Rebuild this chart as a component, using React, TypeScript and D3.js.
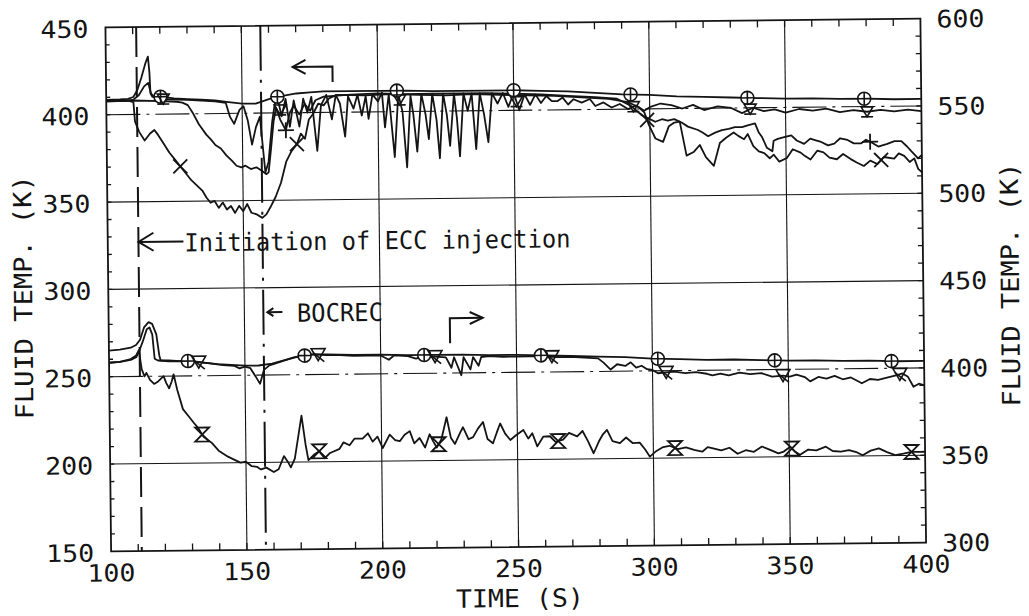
import React from 'react';
import * as d3 from 'd3';

type P = [number, number];

// ---- axes ----
const timeTicks = [100, 150, 200, 250, 300, 350, 400];
const leftTicks = [150, 200, 250, 300, 350, 400, 450];
const rightTicks = [300, 350, 400, 450, 500, 550, 600];
const dashDotGrid = [400, 250]; // left-axis values drawn dash-dot
const eccTime = 111.3;
const bocrecTime = 157;

// ---- upper group (left axis, K) ----
const upCircle: P[] = [
  [100, 408.5], [105, 408.7], [108, 409], [110, 410], [111.5, 414], [113, 421], [114.5, 429], [115.5, 433], [116, 424], [116.3, 412],
  [117, 410], [120, 410], [125, 409], [130, 408.5], [135, 408], [140, 407.5], [145, 406.5], [150, 405.5], [155, 405.5], [158, 407],
  [162, 409], [166, 410], [170, 411], [175, 411.5], [180, 412], [190, 412], [200, 412], [210, 412], [220, 411.5], [230, 411.5],
  [240, 411.5], [250, 411.5], [260, 411], [270, 410.5], [280, 409.5], [290, 408.5], [300, 408], [310, 407], [320, 406.5], [330, 406],
  [340, 405.5], [350, 405], [360, 405], [370, 404.5], [380, 404.5], [390, 404], [400, 404],
];
const upTri: P[] = [
  [100, 407.5], [108, 408], [110, 408.5], [112, 411], [114, 416], [115.5, 418], [116.5, 412], [118, 409], [122, 408.5], [130, 408],
  [140, 407], [144, 406], [145.5, 398], [147, 394], [149, 402], [150.5, 404], [152, 396], [153.5, 382], [155, 392], [156.5, 398],
  [157.5, 380], [158.3, 366], [159.5, 372], [161, 395], [162, 405], [163, 409], [164.5, 398], [166, 408], [167.5, 392], [169, 407],
  [171, 392], [172.5, 408], [174, 400], [175.5, 409], [177.5, 378], [179, 404], [181, 410], [183, 396], [184.5, 410], [186, 405],
  [187.8, 386], [189, 409], [191, 402], [192.5, 410], [194, 398], [195.5, 409], [196.5, 396], [198, 410], [200, 406], [201.5, 411],
  [202.5, 391], [204, 410], [206, 374], [207.5, 410], [209, 400], [210.5, 368], [212, 409], [213, 398], [214.3, 377], [216, 410],
  [217.5, 398], [218.6, 384], [220, 410], [221.5, 395], [222.6, 373], [224, 410], [225.3, 398], [226.4, 380], [228, 410], [229, 396],
  [230, 374], [231.5, 410], [233, 400], [234.5, 410], [236, 378], [237.5, 410], [239, 398], [240.5, 382], [242, 410], [244, 404],
  [246, 410], [248, 402], [250, 410], [252, 400], [254, 409], [256, 403], [258, 409], [260, 404], [262, 408], [264, 405],
  [266, 405], [268, 407], [270, 403], [272, 406], [275, 404], [278, 406], [280, 402], [283, 404], [286, 401], [289, 403],
  [292, 400], [295, 402], [298, 399], [300, 401], [304, 403], [308, 402], [312, 400], [316, 402], [320, 399], [325, 401],
  [330, 400], [334, 397], [338, 400], [342, 398], [346, 399], [350, 397], [355, 399], [360, 398], [365, 399], [370, 397],
  [375, 398], [380, 397], [385, 398], [390, 397], [395, 398], [400, 397],
];
const upCross: P[] = [
  [100, 408], [108, 408], [110, 407], [110.5, 396], [112, 390], [114, 385], [116, 389], [117.6, 391], [119, 388], [121, 383],
  [123, 378], [125, 374], [127, 370], [129, 366], [131, 362], [133, 359], [135, 356], [136.5, 352], [138, 349], [139.5, 350],
  [141, 346], [142.5, 349], [144, 345], [145.5, 347], [147, 343], [148.5, 347], [150, 344], [151.5, 348], [153, 343], [155, 342],
  [157, 340], [158.5, 342], [160, 346], [162, 352], [164, 360], [166, 372], [168, 378], [170, 382], [171.5, 388], [173, 385],
  [174.5, 396], [176, 399], [178, 405], [180, 404], [182, 408], [185, 410], [195, 409.5], [205, 410], [215, 409.5], [225, 409],
  [235, 409.5], [245, 409], [255, 408.5], [265, 408], [275, 407], [285, 406], [292, 404], [296, 401], [298, 398], [299.6, 391],
  [302, 383], [304.8, 381], [307, 390], [309, 392], [311, 392.5], [313.4, 373], [316, 375], [318.3, 379], [320.5, 372], [323.4, 367],
  [325.7, 380], [328, 383], [330.8, 386], [332.5, 384], [334.6, 382], [336, 385], [338, 378], [340, 375], [342, 374], [344, 371],
  [345.5, 373], [347.5, 369], [350.3, 371], [352.5, 376], [355.4, 374], [357, 372], [359, 370], [361.5, 375], [363.8, 374], [366, 371],
  [368.7, 370], [371, 373], [373.8, 370], [376, 368], [378.6, 366], [381, 369], [383.6, 367], [386, 371], [389.8, 370], [391.5, 373],
  [393.5, 371.5], [395.5, 368], [397.2, 370], [398.6, 364], [400, 362],
];
const upPlus: P[] = [
  [100, 408], [110, 408], [120, 407.5], [126, 407], [128, 406.5], [130, 405], [132, 400], [134, 394], [136.7, 388], [138.5, 385],
  [140, 382], [142, 380], [144, 376], [146, 373], [147.7, 370], [149.5, 369], [151, 370], [153, 368], [155, 369], [157, 367],
  [158.7, 365], [159.5, 366], [160.5, 380], [161.5, 395], [162.5, 403], [164, 396], [166, 390], [167.5, 400], [169, 404], [171, 399],
  [173, 405], [175, 401], [177, 407], [180, 409], [190, 410], [200, 410.5], [210, 410], [220, 410], [230, 410], [240, 410],
  [250, 409.5], [260, 409], [270, 408], [280, 407], [288, 406], [293, 402], [297, 396.5], [302, 392.6], [304.5, 394], [306.6, 393.2],
  [309, 394], [311.7, 392], [314, 389.6], [317.7, 387.6], [319.5, 386], [321.4, 384], [324, 386], [326.5, 387.4], [329, 388], [331.3, 389],
  [333.9, 389], [336, 390], [338.7, 391], [340, 386], [341.3, 383], [343, 377], [345, 375], [345.5, 381], [347, 382], [349.4, 383],
  [352, 384], [354, 381], [356.7, 379], [359, 382], [361, 381], [363, 380], [365.5, 378], [367.8, 379], [370, 382], [372.7, 381],
  [375, 379], [377.6, 378.9], [379.5, 381], [381.4, 379.5], [384, 377], [387.3, 378.5], [390, 380], [392.5, 380], [394.5, 377], [396.2, 374],
  [398.6, 370], [400, 372],
];

// ---- lower group (right axis, K) ----
const lowCircle: P[] = [
  [100, 415], [104, 415.5], [108, 416.5], [110, 418], [111.5, 421], [113, 428], [114.7, 431], [116, 430], [117.5, 424], [118.5, 412],
  [119, 409], [122, 409], [126, 408.5], [130, 408.5], [135, 407.5], [140, 406.5], [145, 406], [150, 405.5], [155, 405.5], [160, 406.5],
  [165, 408.5], [170, 410.5], [175, 411.5], [180, 411.5], [190, 411], [200, 411], [210, 410.5], [220, 410.5], [230, 410.5], [240, 410],
  [250, 410], [260, 409.5], [270, 409], [280, 408.5], [290, 408], [300, 407], [310, 406.5], [320, 406], [330, 406], [340, 405.5],
  [350, 405], [360, 405], [370, 404.5], [380, 404.5], [390, 404], [400, 404],
];
const lowCross: P[] = [
  [100, 408], [104, 408.5], [108, 409.5], [110, 411], [111, 414], [112.5, 420], [114, 427], [115, 428], [116, 424], [116.8, 410],
  [118, 409], [122, 408.5], [127, 408.5], [132, 408], [137, 407], [142, 406], [146, 405.5], [148, 404], [150, 405], [152, 404],
  [154, 399], [155.5, 395], [157, 403], [159, 405.5], [163, 407.5], [168, 410], [172, 411], [176, 411.5], [180, 411], [185, 411],
  [190, 410.5], [195, 410.5], [200, 410.5], [203, 408], [205, 410.5], [210, 410], [213, 408.5], [216, 410], [220, 409.5], [224, 409],
  [226, 403], [227, 409], [229.6, 398.7], [230.5, 409], [233, 402], [234, 409], [236, 404], [237, 409], [240, 409.5], [245, 409],
  [250, 409], [255, 409], [260, 409], [265, 408.5], [270, 408.5], [275, 408], [280, 407.5], [282, 405], [284.6, 401], [287, 404],
  [290, 403], [292, 405], [294, 402], [296, 403], [298, 401], [300, 400.5], [302, 398.6], [305, 399], [308, 399.4], [312, 398.5],
  [316, 399], [320, 398], [322, 397.1], [325, 398], [328, 397], [332, 398.5], [336, 397.5], [340, 398], [344, 396], [348, 396.5],
  [350.5, 395.8], [353, 397], [356, 395.5], [358, 393], [361, 395.5], [364, 394.5], [367, 396], [370, 394], [373, 395], [377, 391.6],
  [380, 394], [383, 393.5], [387, 395], [390, 396], [392, 397], [394, 395], [396, 389.3], [398, 391], [400, 390],
];
const lowHour: P[] = [
  [100, 408], [104, 408.5], [108, 410], [110, 412], [111, 415], [112, 404], [113, 400], [113.7, 402], [115, 398], [116.5, 395.6],
  [118, 397], [120, 400], [121, 396], [122, 393], [123, 397], [123.7, 401], [125, 392], [127, 381], [129, 377], [131, 373],
  [132.6, 370], [134.5, 365], [137.5, 361.5], [140, 357], [143.4, 353.5], [146, 351.5], [148, 350], [150, 350.5], [152, 348], [154, 347.5],
  [155.5, 346], [157.5, 347], [160.2, 344.4], [162, 346], [164, 353.5], [165.5, 350], [166.5, 347], [168, 352], [170.6, 376.5], [172, 360],
  [173, 351], [175, 354], [177, 356], [179, 352], [181, 355], [184.5, 357.3], [186, 361], [188.2, 359.3], [190, 363], [193, 363],
  [195, 366], [196.7, 361.2], [198.5, 364], [200.4, 357.5], [203, 365.1], [205, 362], [206.7, 361.3], [208.5, 365], [210.4, 367], [212, 360],
  [214, 363], [216, 357.5], [217.7, 365.1], [219, 361], [220.3, 357.5], [222, 362], [224, 374.7], [225.5, 363], [227, 359.4], [229, 366],
  [230, 368.9], [232, 362], [233.7, 363.2], [235.5, 368], [237.4, 371.8], [239, 362], [241, 359.5], [242.5, 366], [243.7, 370.8], [245.5, 365],
  [247.4, 361.3], [249.5, 364], [252.2, 367], [254, 362], [255.5, 365], [257.3, 357.5], [259.5, 363], [262, 363.2], [264, 360], [266.8, 361.2],
  [269, 365], [272, 363], [274, 366], [276, 360], [278, 353.2], [280, 360], [281.5, 364], [283, 366.5], [285, 360], [287.7, 358.8],
  [290, 362], [292.5, 358.7], [295, 359], [297, 355], [298.7, 350.9], [301, 354], [303.6, 356.3], [306, 357], [309, 355], [312, 356],
  [315, 354.5], [318, 353.4], [320, 356], [322, 355.2], [325, 354], [328, 355.5], [331, 352], [334, 354], [337, 353], [340, 356],
  [343, 354], [346, 352], [348, 353], [350.4, 355.7], [352, 353], [354, 351], [357, 354], [360, 353.5], [363.5, 355.5], [366, 353],
  [369, 352.6], [372, 353.4], [375, 352], [377, 350.4], [380, 353], [383, 354.2], [386, 352], [389, 350.3], [392, 351], [395, 352],
  [398, 352], [400, 352],
];

// marker times
const upCircleMarks = [120, 163, 207, 250, 293, 336, 379];
const upTriMarks = [121, 164, 208, 251, 294, 337, 380];
const upCrossMarks = [127, 170, 299, 385];
const upPlusMarks = [166, 381];
const lowCircleMarks = [129, 172, 216, 259, 302, 345, 388];
const lowCrossMarks = [133, 177, 220, 263, 305, 348, 391];
const lowHourMarks = [134, 177, 221, 265, 308, 351, 395];

// annotation anchors (data units)
const eccArrowLevel = 327; // left axis K
const bocrecLevel = 286; // left axis K
const upArrow = { t0: 168.7, t1: 183.4, v: 426.2, vBottom: 417.3 }; // left axis
const lowArrow = { t0: 225.6, t1: 237.7, v: 431.4, vBottom: 417.1 }; // right axis

function valAt(data: P[], t: number): number {
  for (let i = 0; i < data.length - 1; i++) {
    const [t0, v0] = data[i];
    const [t1, v1] = data[i + 1];
    if (t >= t0 && t <= t1) return v0 + ((v1 - v0) * (t - t0)) / (t1 - t0);
  }
  return data[data.length - 1][1];
}

const INK = '#141414';
const FONT = '"DejaVu Sans Mono", "Liberation Mono", monospace';

function Marker({ kind, cx, cy }: { kind: string; cx: number; cy: number }) {
  const common = { fill: 'none', stroke: INK, strokeWidth: 1.6 };
  if (kind === 'circlePlus')
    return (
      <g transform={`translate(${cx},${cy})`} {...common}>
        <circle r={6.5} fill="white" />
        <line x1={-6.5} x2={6.5} y1={0} y2={0} />
        <line x1={0} x2={0} y1={-6.5} y2={6.5} />
      </g>
    );
  if (kind === 'tri')
    return (
      <g transform={`translate(${cx},${cy})`} {...common}>
        <path d="M-6,-5 L6,-5 L0,5 Z" />
        <line x1={-6} x2={6} y1={5} y2={5} />
      </g>
    );
  if (kind === 'cross')
    return (
      <g transform={`translate(${cx},${cy})`} {...common} strokeWidth={1.8}>
        <line x1={-7} x2={7} y1={-7} y2={7} />
        <line x1={-7} x2={7} y1={7} y2={-7} />
      </g>
    );
  if (kind === 'plus')
    return (
      <g transform={`translate(${cx},${cy})`} {...common} strokeWidth={1.8}>
        <line x1={-8} x2={8} y1={0} y2={0} />
        <line x1={0} x2={0} y1={-8} y2={8} />
      </g>
    );
  if (kind === 'triCross')
    return (
      <g transform={`translate(${cx},${cy})`} {...common}>
        <path d="M-7,-6 L7,-6 L0,6 Z" />
        <line x1={-5} x2={6} y1={-2} y2={7} />
      </g>
    );
  // hourglass
  return (
    <g transform={`translate(${cx},${cy})`} {...common} strokeWidth={1.8}>
      <path d="M-7,-7 L7,-7 L-7,7 L7,7 Z" />
    </g>
  );
}

export default function App() {
  const W = 1029;
  const H = 616;
  const L = 108.25;
  const R = 923.25;
  const T = 23;
  const B = 547;

  const x = d3.scaleLinear().domain([100, 400]).range([L, R]);
  const yL = d3.scaleLinear().domain([150, 450]).range([B, T]);
  const yR = d3.scaleLinear().domain([300, 600]).range([B, T]);

  const lineL = d3.line<P>().x((d) => x(d[0])).y((d) => yL(d[1]));
  const lineR = d3.line<P>().x((d) => x(d[0])).y((d) => yR(d[1]));

  const minorT = d3.range(110, 400, 10);
  const minorL = d3.range(160, 450, 10);

  const upperSeries: { data: P[]; marks: number[]; kind: string }[] = [
    { data: upCircle, marks: upCircleMarks, kind: 'circlePlus' },
    { data: upTri, marks: upTriMarks, kind: 'tri' },
    { data: upCross, marks: upCrossMarks, kind: 'cross' },
    { data: upPlus, marks: upPlusMarks, kind: 'plus' },
  ];
  const lowerSeries: { data: P[]; marks: number[]; kind: string }[] = [
    { data: lowCircle, marks: lowCircleMarks, kind: 'circlePlus' },
    { data: lowCross, marks: lowCrossMarks, kind: 'triCross' },
    { data: lowHour, marks: lowHourMarks, kind: 'hourglass' },
  ];

  const xe = x(eccTime);
  const xb = x(bocrecTime);

  return (
    <svg
      width={W}
      height={H}
      viewBox={`0 0 ${W} ${H}`}
      style={{ position: 'absolute', left: 0, top: 0, background: 'white' }}
    >
      <rect x={0} y={0} width={W} height={H} fill="white" />
      <g transform="rotate(-0.62 515.75 285)">
        {/* gridlines */}
        {timeTicks.slice(1, -1).map((t) => (
          <line key={'gx' + t} x1={x(t)} x2={x(t)} y1={T} y2={B} stroke={INK} strokeWidth={1.1} />
        ))}
        {leftTicks.slice(1, -1).map((v) => (
          <line
            key={'gy' + v}
            x1={L}
            x2={R}
            y1={yL(v)}
            y2={yL(v)}
            stroke={INK}
            strokeWidth={1.1}
            strokeDasharray={dashDotGrid.includes(v) ? '34,6,3,6' : undefined}
          />
        ))}

        {/* minor ticks */}
        {minorT.map((t) => (
          <g key={'mt' + t} stroke={INK} strokeWidth={1.3}>
            <line x1={x(t)} x2={x(t)} y1={T} y2={T + 7} />
            <line x1={x(t)} x2={x(t)} y1={B} y2={B - 7} />
          </g>
        ))}
        {minorL.map((v) => (
          <g key={'ml' + v} stroke={INK} strokeWidth={1.3}>
            <line x1={L} x2={L + 4} y1={yL(v)} y2={yL(v)} />
            <line x1={R} x2={R - 5} y1={yL(v)} y2={yL(v)} />
          </g>
        ))}

        {/* ECC initiation (dashed) and BOCREC (dash-dot) */}
        <line x1={xe} x2={xe} y1={T} y2={B} stroke={INK} strokeWidth={2} strokeDasharray="30,10" />
        <line x1={xb} x2={xb} y1={T} y2={B} stroke={INK} strokeWidth={2} strokeDasharray="45,9,3,9" />

        {/* data lines */}
        {upperSeries.map((s, i) => (
          <path key={'u' + i} d={lineL(s.data) || ''} fill="none" stroke={INK} strokeWidth={1.8} strokeLinejoin="round" />
        ))}
        {lowerSeries.map((s, i) => (
          <path key={'l' + i} d={lineR(s.data) || ''} fill="none" stroke={INK} strokeWidth={1.8} strokeLinejoin="round" />
        ))}
        {upperSeries.map((s, i) =>
          s.marks.map((t) => <Marker key={'um' + i + '-' + t} kind={s.kind} cx={x(t)} cy={yL(valAt(s.data, t))} />)
        )}
        {lowerSeries.map((s, i) =>
          s.marks.map((t) => <Marker key={'lm' + i + '-' + t} kind={s.kind} cx={x(t)} cy={yR(valAt(s.data, t))} />)
        )}

        {/* frame */}
        <rect x={L} y={T} width={R - L} height={B - T} fill="none" stroke={INK} strokeWidth={1.8} />

        {/* tick labels */}
        <g fontFamily={FONT} fontSize={24} fill={INK}>
          {leftTicks.map((v) => (
            <text key={'lt' + v} x={L - 65} y={yL(v) + 10} textLength={48} lengthAdjust="spacingAndGlyphs">
              {v}
            </text>
          ))}
          {rightTicks.map((v) => (
            <text key={'rt' + v} x={R + 16} y={yR(v) + 9} textLength={48} lengthAdjust="spacingAndGlyphs">
              {v}
            </text>
          ))}
          {timeTicks.map((t) => (
            <text key={'bt' + t} x={x(t)} y={B + 30} textAnchor="middle" textLength={48} lengthAdjust="spacingAndGlyphs">
              {t}
            </text>
          ))}
        </g>

        {/* axis titles */}
        <g fontFamily={FONT} fontSize={25} fill={INK}>
          <text x={516.6} y={607} textAnchor="middle" textLength={128} lengthAdjust="spacingAndGlyphs">
            TIME (S)
          </text>
          <text
            transform="translate(32,292) rotate(-90)"
            textAnchor="middle"
            textLength={244}
            lengthAdjust="spacingAndGlyphs"
          >
            FLUID TEMP. (K)
          </text>
          <text
            transform="translate(1019,290) rotate(-90)"
            textAnchor="middle"
            textLength={244}
            lengthAdjust="spacingAndGlyphs"
          >
            FLUID TEMP. (K)
          </text>
        </g>

        {/* annotations */}
        <g stroke={INK} strokeWidth={2} fill="none">
          <line x1={xe} x2={xe + 45} y1={yL(eccArrowLevel)} y2={yL(eccArrowLevel)} />
          <path d={`M${xe + 15},${yL(eccArrowLevel) - 9} L${xe},${yL(eccArrowLevel)} L${xe + 15},${yL(eccArrowLevel) + 9}`} />
          <line x1={xb + 4} x2={xb + 19} y1={yL(bocrecLevel)} y2={yL(bocrecLevel)} />
          <path d={`M${xb + 10},${yL(bocrecLevel) - 4} L${xb + 4},${yL(bocrecLevel)} L${xb + 10},${yL(bocrecLevel) + 4}`} />
          <path d={`M${x(upArrow.t0)},${yL(upArrow.v)} H${x(upArrow.t1)} V${yL(upArrow.vBottom)}`} />
          <path
            d={`M${x(upArrow.t0) + 13},${yL(upArrow.v) - 7} L${x(upArrow.t0)},${yL(upArrow.v)} L${x(upArrow.t0) + 13},${yL(upArrow.v) + 7}`}
          />
          <path d={`M${x(lowArrow.t0)},${yR(lowArrow.vBottom)} V${yR(lowArrow.v)} H${x(lowArrow.t1)}`} />
          <path
            d={`M${x(lowArrow.t1) - 13},${yR(lowArrow.v) - 6} L${x(lowArrow.t1)},${yR(lowArrow.v)} L${x(lowArrow.t1) - 13},${yR(lowArrow.v) + 6}`}
          />
        </g>
        <g fontFamily={FONT} fontSize={25} fill={INK}>
          <text x={xe + 46} y={yL(eccArrowLevel) + 10} textLength={386} lengthAdjust="spacingAndGlyphs">
            Initiation of ECC injection
          </text>
          <text x={xb + 33.5} y={yL(bocrecLevel) + 10} textLength={86} lengthAdjust="spacingAndGlyphs">
            BOCREC
          </text>
        </g>
      </g>
    </svg>
  );
}
